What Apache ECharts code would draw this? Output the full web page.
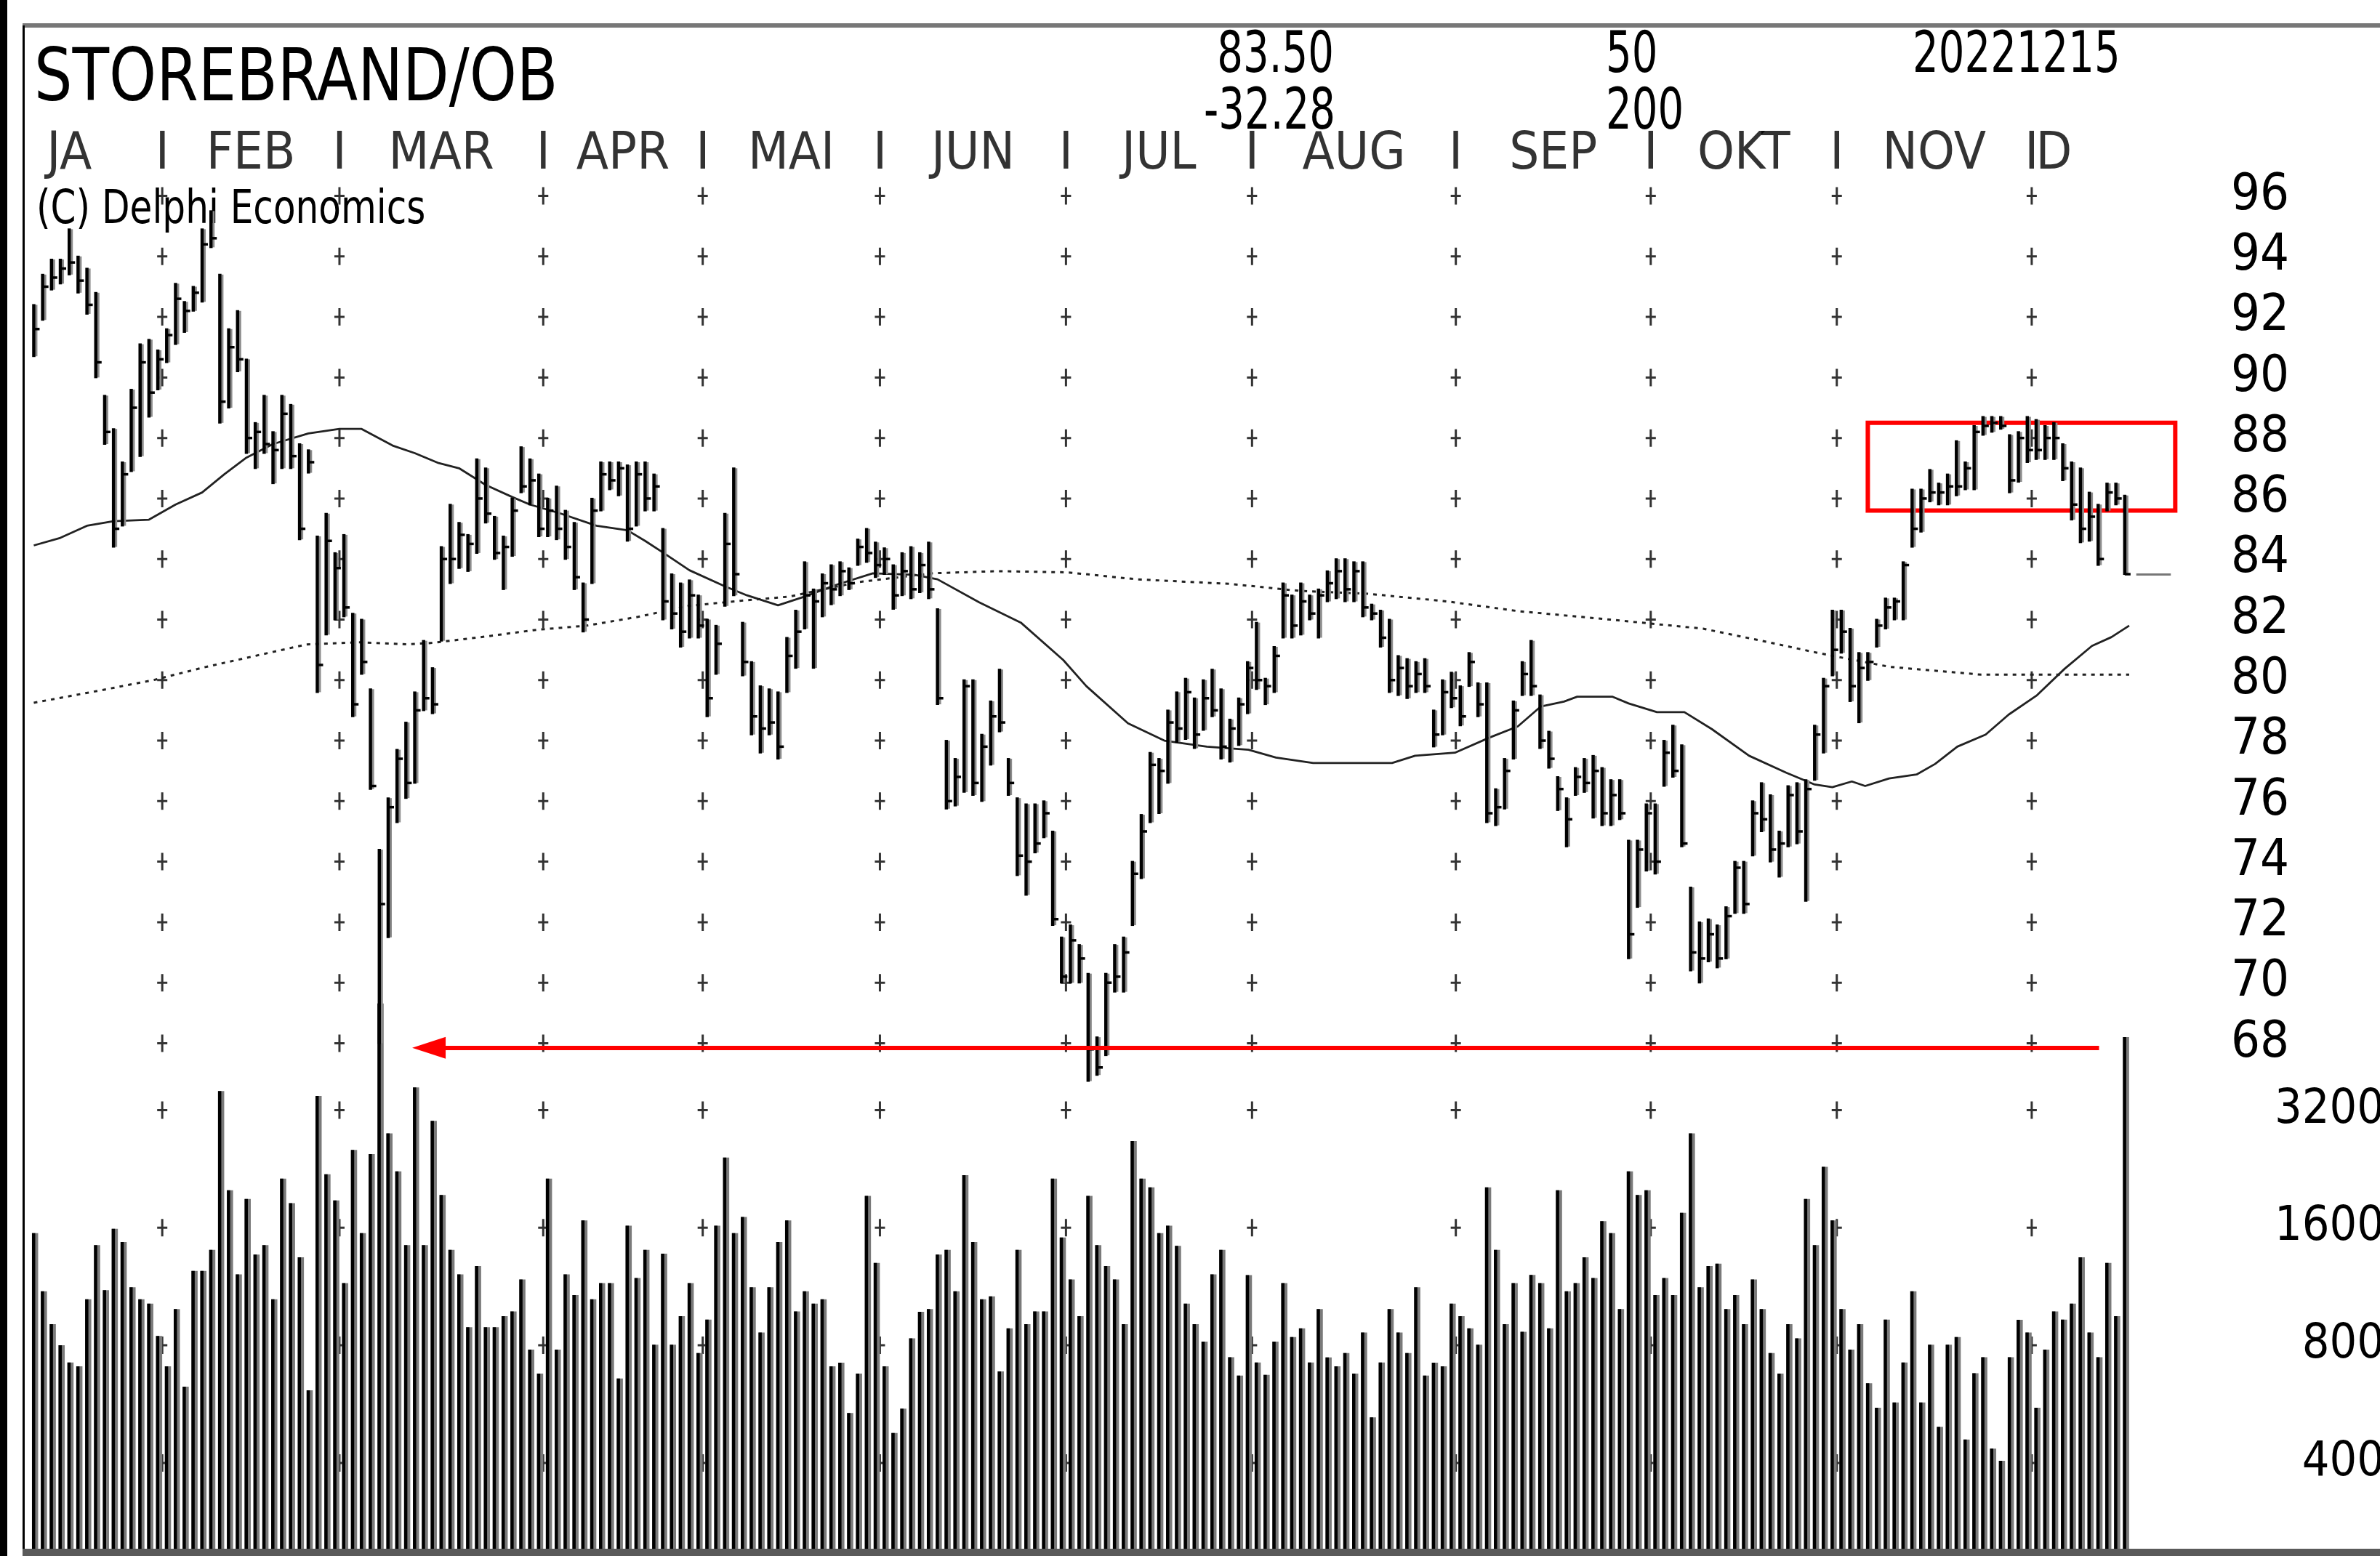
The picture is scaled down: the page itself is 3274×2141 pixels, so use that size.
<!DOCTYPE html>
<html>
<head>
<meta charset="utf-8">
<title>STOREBRAND/OB</title>
<script src="https://cdn.jsdelivr.net/npm/echarts@6/dist/echarts.min.js"></script>
<style>
  html, body { margin: 0; padding: 0; background: #fff; }
  #chart { width: 3274px; height: 2141px; }
</style>
</head>
<body>
<div id="chart"></div>
<script>
// daily bars 11 Jan - 15 Dec 2022, one entry per trading day
var highs = [
  92.4, 93.4, 93.9, 93.9, 94.9, 94.0, 93.6, 92.8, 89.4, 88.3,
  87.2, 89.6, 91.1, 91.25, 90.9, 91.6, 93.1, 92.5, 93.0, 94.9,
  95.5, 93.4, 91.6, 92.2, 90.6, 88.5, 89.4, 88.2, 89.4, 89.1,
  87.8, 87.6, 84.75, 85.5, 84.2, 84.8, 82.2, 82.0, 79.7, 74.4,
  76.1, 77.7, 78.6, 79.6, 81.3, 80.4, 84.4, 85.8, 85.2, 84.8,
  87.3, 87.0, 85.4, 84.75, 86.0, 87.7, 87.3, 86.8, 86.0, 86.4,
  85.6, 85.2, 83.2, 86.0, 87.2, 87.2, 87.2, 87.1, 87.2, 87.2,
  86.8, 85.0, 83.5, 83.2, 83.3, 82.8, 82.0, 81.8, 85.5, 87.0,
  81.9, 80.6, 79.8, 79.7, 79.6, 81.4, 82.3, 83.9, 83.0, 83.5,
  83.8, 83.9, 83.7, 84.65, 85.0, 84.55, 84.36, 83.8, 84.2, 84.4,
  84.2, 84.55, 82.35, 78.0, 77.4, 80.0, 80.0, 78.2, 79.3, 80.35,
  77.4, 76.1, 75.9, 75.9, 76.0, 75.0, 71.5, 71.9, 71.25, 70.3,
  68.2, 70.3, 71.25, 71.5, 74.0, 75.55, 77.6, 77.4, 79.0, 79.6,
  80.05, 79.4, 80.0, 80.35, 79.7, 78.7, 79.4, 80.6, 81.9, 80.05,
  81.1, 83.2, 82.8, 83.2, 82.8, 83.0, 83.6, 84.0, 84.0, 83.9,
  83.9, 82.5, 82.3, 82.0, 80.8, 80.7, 80.6, 80.7, 79.0, 80.0,
  80.25, 79.8, 80.9, 79.9, 79.9, 76.4, 77.4, 79.3, 80.6, 81.3,
  79.5, 78.3, 76.8, 76.1, 77.1, 77.4, 77.5, 77.1, 76.7, 76.7,
  74.7, 74.7, 75.9, 75.9, 78.0, 78.5, 77.85, 73.15, 72.0, 72.1,
  71.9, 72.5, 74.0, 74.0, 76.0, 76.6, 76.2, 75.0, 76.5, 76.6,
  76.7, 78.5, 80.05, 82.3, 82.3, 81.7, 80.9, 80.9, 82.0, 82.7,
  82.7, 83.9, 86.3, 86.3, 86.95, 86.5, 86.8, 87.9, 87.2, 88.4,
  88.7, 88.7, 88.7, 88.1, 88.2, 88.7, 88.6, 88.4, 88.5, 87.8,
  87.2, 87.0, 86.2, 85.8, 86.5, 86.5, 86.1
];
var lows = [
  90.7, 91.9, 92.9, 93.1, 93.4, 92.8, 92.1, 90.0, 87.8, 84.4,
  85.1, 86.9, 87.4, 88.7, 89.6, 90.5, 91.1, 91.5, 92.2, 92.5,
  94.3, 88.5, 89.0, 90.2, 87.5, 87.0, 87.5, 86.5, 87.0, 87.0,
  84.65, 86.85, 79.6, 81.5, 82.0, 82.1, 78.8, 80.2, 76.4, 68.0,
  71.5, 75.3, 76.1, 76.6, 79.0, 78.9, 81.3, 83.2, 83.7, 83.6,
  84.2, 85.2, 84.0, 83.0, 84.1, 86.2, 85.8, 84.75, 84.75, 84.65,
  84.0, 83.0, 81.6, 83.2, 85.6, 86.3, 86.1, 84.6, 85.1, 85.6,
  85.6, 82.0, 81.7, 81.1, 81.4, 81.4, 78.8, 80.2, 82.45, 82.8,
  80.15, 78.2, 77.6, 78.2, 77.4, 79.6, 80.4, 81.7, 80.4, 82.1,
  82.5, 82.8, 83.0, 83.8, 83.9, 83.4, 83.5, 82.35, 82.8, 82.7,
  82.9, 82.7, 79.2, 75.75, 75.85, 76.3, 76.2, 76.0, 77.2, 78.3,
  76.2, 73.55, 72.9, 74.3, 74.8, 71.9, 70.0, 70.0, 70.0, 66.75,
  66.95, 67.6, 69.7, 69.7, 71.9, 73.45, 75.3, 75.6, 76.6, 77.95,
  78.05, 77.75, 78.35, 78.8, 77.4, 77.3, 77.85, 78.9, 79.7, 79.2,
  79.6, 81.4, 81.4, 81.5, 82.0, 81.4, 82.6, 82.7, 82.6, 82.6,
  82.1, 82.0, 81.1, 79.6, 79.5, 79.4, 79.6, 79.6, 77.8, 78.2,
  79.1, 78.5, 79.8, 78.8, 75.3, 75.2, 75.75, 77.4, 79.5, 79.5,
  77.75, 77.1, 75.7, 74.5, 76.2, 76.3, 75.45, 75.2, 75.2, 75.4,
  70.8, 72.5, 73.7, 73.6, 76.5, 76.8, 74.5, 70.4, 70.0, 70.7,
  70.5, 70.8, 72.3, 72.3, 74.2, 75.0, 74.0, 73.5, 74.5, 74.6,
  72.7, 76.7, 77.6, 80.15, 80.9, 79.3, 78.6, 80.0, 81.1, 81.7,
  82.0, 82.0, 84.4, 84.9, 85.9, 85.8, 85.8, 86.1, 86.3, 86.3,
  88.1, 88.2, 88.3, 86.2, 86.55, 87.2, 87.3, 87.3, 87.3, 86.6,
  85.3, 84.55, 84.6, 83.8, 85.6, 85.8, 83.5
];
var closes = [
  91.6, 93.0, 93.3, 93.6, 93.8, 93.2, 92.4, 90.5, 88.2, 85.0,
  86.8, 89.0, 90.5, 89.5, 90.6, 91.4, 92.6, 92.2, 92.8, 94.4,
  94.6, 89.2, 91.0, 90.6, 88.0, 88.2, 87.8, 87.6, 88.8, 87.4,
  85.0, 87.2, 80.5, 84.6, 83.7, 82.4, 79.2, 80.6, 76.5, 72.6,
  75.8, 77.4, 76.6, 79.0, 79.4, 79.2, 84.0, 84.0, 84.8, 84.5,
  86.0, 85.5, 84.2, 84.4, 85.6, 86.4, 86.6, 85.0, 85.6, 85.0,
  84.4, 83.4, 82.0, 85.6, 86.8, 86.6, 87.0, 85.0, 86.8, 86.0,
  86.4, 82.6, 82.2, 81.6, 82.8, 81.8, 79.4, 81.2, 84.5, 83.5,
  80.6, 78.8, 78.4, 78.6, 77.8, 80.8, 81.6, 82.8, 82.6, 83.2,
  83.0, 83.6, 83.2, 84.4, 84.2, 83.8, 84.0, 82.8, 83.6, 83.0,
  83.8, 83.0, 79.4, 76.0, 76.8, 79.8, 76.6, 77.8, 78.8, 78.6,
  76.6, 74.2, 74.0, 74.6, 75.6, 72.1, 70.2, 71.4, 70.8, 67.8,
  67.2, 70.0, 70.2, 71.0, 73.6, 75.0, 77.2, 77.0, 78.6, 78.4,
  79.6, 78.2, 79.4, 79.0, 77.8, 78.4, 79.2, 80.4, 80.0, 79.8,
  80.8, 82.8, 81.8, 82.6, 82.2, 82.8, 83.2, 83.6, 83.0, 83.6,
  82.4, 82.2, 81.4, 80.0, 80.4, 79.8, 80.2, 79.8, 78.2, 79.6,
  79.4, 78.8, 80.6, 79.2, 75.6, 75.8, 77.0, 79.0, 80.2, 79.8,
  78.0, 77.4, 76.4, 75.4, 76.8, 76.6, 77.0, 75.6, 76.2, 75.6,
  71.6, 74.4, 75.6, 74.0, 77.6, 77.0, 74.6, 71.0, 70.8, 71.6,
  70.8, 72.2, 73.8, 72.6, 75.6, 75.4, 74.4, 74.6, 76.2, 75.0,
  76.4, 78.2, 79.8, 81.0, 81.6, 79.8, 80.4, 80.6, 81.8, 82.4,
  82.6, 83.8, 85.0, 86.0, 86.2, 86.2, 86.4, 86.4, 87.0, 88.2,
  88.4, 88.5, 88.4, 86.6, 88.0, 87.6, 87.6, 88.0, 88.0, 87.0,
  85.8, 85.0, 85.4, 84.0, 86.2, 86.0, 83.5
];
var volumes = [
  1550, 1100, 906, 800, 723, 707, 1050, 1444, 1107, 1590,
  1470, 1126, 1050, 1023, 845, 707, 990, 627, 1240, 1240,
  1405, 3580, 1995, 1215, 1895, 1366, 1444, 1050, 2137, 1850,
  1344, 614, 3480, 2192, 1880, 1155, 2530, 1550, 2470, 6000,
  2790, 2230, 1444, 3660, 1444, 3005, 1940, 1405, 1215, 890,
  1276, 890, 890, 950, 977, 1180, 780, 677, 2137, 780,
  1215, 1076, 1670, 1050, 1155, 1155, 658, 1620, 1190, 1405,
  803, 1373, 803, 950, 1155, 764, 931, 1620, 2420, 1550,
  1704, 1126, 863, 1126, 1470, 1670, 977, 1100, 1023, 1050,
  707, 722, 537, 677, 1930, 1300, 707, 477, 551, 834,
  975, 990, 1366, 1405, 1100, 2180, 1470, 1050, 1068, 686,
  884, 1405, 906, 977, 977, 2137, 1510, 1180, 950, 1930,
  1444, 1276, 1180, 906, 2666, 2137, 2030, 1550, 1620, 1438,
  1023, 906, 818, 1215, 1405, 746, 669, 1210, 723, 672,
  818, 1155, 840, 884, 723, 990, 745, 707, 764, 677,
  863, 523, 723, 990, 863, 764, 1126, 669, 722, 707,
  1023, 950, 884, 803, 2030, 1405, 906, 1155, 866, 1211,
  1155, 884, 1995, 1100, 1155, 1344, 1190, 1663, 1550, 990,
  2230, 1940, 1995, 1076, 1190, 1076, 1748, 2790, 1126, 1276,
  1295, 990, 1076, 906, 1180, 990, 764, 677, 906, 834,
  1895, 1444, 2290, 1670, 990, 780, 906, 640, 554, 931,
  571, 723, 1100, 571, 803, 495, 803, 840, 459, 679,
  746, 435, 405, 746, 930, 863, 554, 780, 977, 931,
  1023, 1344, 863, 746, 1300, 950, 4920
];

// moving averages at these bar positions
var ma50At = [0, 3, 6, 9, 13, 16, 19, 21.5, 24, 27, 31, 34.5, 37, 40.5, 43, 45.7, 48, 51, 54, 56,
  59.5, 63.5, 67, 69, 71, 74, 78, 80.5, 84, 87, 90.5, 94.7, 99.4, 102, 106.7, 111.4, 116.2, 118.8,
  123.5, 127.6, 132.4, 137.1, 140.2, 144.4, 153.3, 155.9, 160.4, 164.3, 167.5, 170.1, 172.7, 174.2,
  178.2, 180, 183.2, 186.3, 189.4, 193.6, 197.8, 201, 203, 205.2, 206.7, 209.4, 212.5, 214.6, 217.1,
  220.3, 222.9, 226.1, 229.2, 232.3, 234.5, 236.5];
var ma50 = [84.45, 84.7, 85.1, 85.25, 85.3, 85.8, 86.2, 86.8, 87.35, 87.8, 88.15, 88.3, 88.3, 87.75,
  87.5, 87.17, 87.0, 86.45, 86.05, 85.8, 85.5, 85.1, 84.95, 84.6, 84.22, 83.63, 83.1, 82.8, 82.47,
  82.76, 83.14, 83.53, 83.48, 83.33, 82.57, 81.9, 80.66, 79.8, 78.57, 78.0, 77.8, 77.7, 77.44, 77.26,
  77.26, 77.5, 77.6, 78.1, 78.47, 79.13, 79.29, 79.45, 79.45, 79.23, 78.94, 78.94, 78.38, 77.5,
  76.94, 76.55, 76.46, 76.65, 76.5, 76.75, 76.88, 77.23, 77.8, 78.2, 78.86, 79.5, 80.37, 81.13,
  81.42, 81.8];
var ma200At = [0, 7.7, 13.5, 19.2, 25, 30.8, 36.5, 42.2, 45, 51, 56.7, 62.4, 68.2, 73.9, 79.7, 85.3,
  93.1, 101.5, 108.8, 116.7, 124.5, 135, 142.8, 150.7, 159.5, 167.5, 177.9, 188.4, 195, 201.5,
  209.4, 219.8, 236.5];
var ma200 = [79.25, 79.67, 80.0, 80.42, 80.8, 81.18, 81.25, 81.18, 81.23, 81.44, 81.66, 81.8, 82.09,
  82.45, 82.62, 82.76, 83.24, 83.53, 83.6, 83.56, 83.33, 83.18, 82.95, 82.85, 82.6, 82.28, 82.0,
  81.7, 81.3, 80.89, 80.44, 80.18, 80.18];

// first bar of each month after January
var monthStart = [15, 35, 58, 76, 96, 117, 138, 161, 183, 204, 226];
var monthNames = ['JA', 'FEB', 'MAR', 'APR', 'MAI', 'JUN', 'JUL', 'AUG', 'SEP', 'OKT', 'NOV', 'D'];
var janStart = -6; // 3 Jan lies six trading days before the first bar
var priceTicks = [68, 70, 72, 74, 76, 78, 80, 82, 84, 86, 88, 90, 92, 94, 96];
var volTicks = [400, 800, 1600, 3200];

var title = 'STOREBRAND/OB';
var lastDate = '20221215';
var maPeriods = [50, 200];
var changeText = '-32.28';
var supportLevel = 67.85;
var boxRange = { from: 207, to: 241.7, top: 88.5, bottom: 85.6 };

var FONT = "'Liberation Sans Narrow', 'Arial Narrow', 'DejaVu Sans Condensed', sans-serif";
var PLUS = 'path://M5.5,0H8.5V24H5.5ZM0,10.5H14V13.5H0Z';

var myChart = echarts.init(document.getElementById('chart'));

var barData = highs.map(function (h, i) { return [i, h, lows[i], closes[i]]; });
var volData = volumes.map(function (v, i) { return [i, v]; });
var ma50Data = ma50.map(function (v, i) { return [ma50At[i], v]; });
var ma200Data = ma200.map(function (v, i) { return [ma200At[i], v]; });

var plusPrice = [], plusVol = [];
monthStart.forEach(function (s) {
    priceTicks.forEach(function (p) { plusPrice.push([s - 0.5, p]); });
    volTicks.forEach(function (v) { plusVol.push([s - 0.5, v]); });
});

// month names sit in the middle of their month, separators on the boundaries
var starts = [janStart].concat(monthStart);
var monthLabels = monthNames.map(function (n, i) {
    var x = i < starts.length - 1 ? (starts[i] + starts[i + 1] - 1) / 2 : starts[i] + 2;
    return { name: n, value: [x, 97.35] };
});
var separators = monthStart.map(function (s) { return { name: 'I', value: [s - 0.5, 97.35] }; });

function renderBar(params, api) {
    var i = api.value(0);
    var hi = api.coord([i, api.value(1)]);
    var lo = api.coord([i, api.value(2)]);
    var cl = api.coord([i, api.value(3)]);
    return {
        type: 'group',
        children: [
            { type: 'line', shape: { x1: hi[0] + 3.5, y1: hi[1], x2: lo[0] + 3.5, y2: lo[1] }, style: { stroke: '#8c8c8c', lineWidth: 3 } },
            { type: 'line', shape: { x1: hi[0], y1: hi[1] - 1, x2: lo[0], y2: lo[1] + 1 }, style: { stroke: '#000', lineWidth: 4.5 } },
            { type: 'line', shape: { x1: cl[0], y1: cl[1], x2: cl[0] + 8, y2: cl[1] }, style: { stroke: '#000', lineWidth: 3.5 } }
        ]
    };
}

function renderVolume(params, api) {
    var p = api.coord([api.value(0), api.value(1)]);
    var base = params.coordSys.y + params.coordSys.height;
    return {
        type: 'group',
        children: [
            { type: 'rect', shape: { x: p[0] - 2.5, y: p[1], width: 8.5, height: base - p[1] }, style: { fill: '#7a7a7a' } },
            { type: 'rect', shape: { x: p[0] - 2.5, y: p[1], width: 4.5, height: base - p[1] }, style: { fill: '#000' } }
        ]
    };
}

// header text, squeezed horizontally to get the narrow face of the original
function headText(text, x, y, size, sx, align) {
    return {
        type: 'text', x: x, y: y, scaleX: sx, silent: true,
        style: {
            text: text, fill: '#000', fontSize: size, fontFamily: FONT,
            align: align || 'left', textAlign: align || 'left',
            verticalAlign: 'middle', textVerticalAlign: 'middle'
        }
    };
}

var labelStyle = { show: true, position: 'inside', formatter: '{b}', color: '#000', fontSize: 72, fontFamily: FONT };

var option = {
    animation: false,
    backgroundColor: '#fff',
    grid: [
        // price 52..102; the volume labels run off the right edge as in the original
        { left: 16, top: 19.7, width: 2980, height: 2082, containLabel: false, outerBoundsMode: 'none' },
        { left: 16, top: 1200, width: 2980, height: 931, containLabel: false, outerBoundsMode: 'none' }
    ],
    xAxis: [
        { type: 'value', gridIndex: 0, min: -2.5, max: 242, show: false },
        { type: 'value', gridIndex: 1, min: -2.5, max: 242, show: false }
    ],
    yAxis: [
        {
            type: 'value', gridIndex: 0, position: 'right', min: 52, max: 102, interval: 2,
            axisLine: { show: false }, axisTick: { show: false }, splitLine: { show: false },
            axisLabel: {
                margin: 73, fontSize: 70, fontFamily: FONT, color: '#000',
                formatter: function (v) { return priceTicks.indexOf(v) >= 0 ? String(v) : ''; }
            }
        },
        {
            type: 'log', logBase: 2, gridIndex: 1, position: 'right', min: 241.2, max: 13014,
            axisLine: { show: false }, axisTick: { show: false }, splitLine: { show: false },
            axisLabel: {
                customValues: volTicks, align: 'right', margin: 284,
                fontSize: 66, fontFamily: FONT, color: '#000',
                formatter: function (v) { return String(Math.round(v)); }
            }
        }
    ],
    series: [
        {
            type: 'scatter', name: 'grid+', xAxisIndex: 0, yAxisIndex: 0, data: plusPrice,
            symbol: PLUS, symbolSize: [14, 24], itemStyle: { color: '#000' }, silent: true, z: 1
        },
        {
            type: 'scatter', name: 'grid+vol', xAxisIndex: 1, yAxisIndex: 1, data: plusVol,
            symbol: PLUS, symbolSize: [14, 24], itemStyle: { color: '#000' }, silent: true, z: 1
        },
        {
            type: 'custom', name: 'volum', xAxisIndex: 1, yAxisIndex: 1, data: volData,
            renderItem: renderVolume, encode: { x: 0, y: 1 }, silent: true, z: 2
        },
        {
            type: 'line', name: 'MA200', xAxisIndex: 0, yAxisIndex: 0, data: ma200Data,
            showSymbol: false, silent: true, z: 3,
            lineStyle: { color: '#222', width: 3, type: [5, 7] }
        },
        {
            type: 'line', name: 'MA50', xAxisIndex: 0, yAxisIndex: 0, data: ma50Data,
            showSymbol: false, silent: true, z: 3,
            lineStyle: { color: '#222', width: 2.8 },
            markArea: {
                silent: true,
                itemStyle: { color: 'rgba(0,0,0,0)', borderColor: '#ff0000', borderWidth: 6 },
                label: { show: false },
                data: [[{ coord: [boxRange.from, boxRange.top] }, { coord: [boxRange.to, boxRange.bottom] }]]
            },
            markLine: {
                silent: true,
                symbol: ['none', 'none'],
                label: { show: false },
                lineStyle: { color: '#ff0000', width: 6, type: 'solid' },
                data: [
                    [
                        { coord: [44.6, supportLevel], symbol: 'triangle', symbolSize: [30, 46] },
                        { coord: [233.1, supportLevel], symbol: 'none' }
                    ],
                    [
                        { coord: [237.3, closes[closes.length - 1]], lineStyle: { color: '#777', width: 3 } },
                        { coord: [241.2, closes[closes.length - 1]] }
                    ]
                ]
            }
        },
        {
            type: 'custom', name: 'kurs', xAxisIndex: 0, yAxisIndex: 0, data: barData,
            renderItem: renderBar, encode: { x: 0, y: [1, 2, 3] }, silent: true, z: 4
        },
        {
            type: 'scatter', name: 'months', xAxisIndex: 0, yAxisIndex: 0,
            data: monthLabels.concat(separators), symbolSize: 1,
            itemStyle: { color: 'rgba(0,0,0,0)' }, label: labelStyle, silent: true, z: 5
        }
    ],
    graphic: [
        { type: 'rect', shape: { x: 0, y: 0, width: 10, height: 2141 }, style: { fill: '#000' }, silent: true },
        { type: 'rect', shape: { x: 31, y: 32, width: 3243, height: 6 }, style: { fill: '#777' }, silent: true },
        { type: 'rect', shape: { x: 31, y: 35, width: 3, height: 2098 }, style: { fill: '#000' }, silent: true },
        { type: 'rect', shape: { x: 31, y: 2131, width: 3243, height: 10 }, style: { fill: '#5a5a5a' }, silent: true },
        headText(title, 47, 112, 100, 0.92),
        headText(closes[closes.length - 1].toFixed(2), 1835, 79, 78, 0.8, 'right'),
        headText(changeText, 1837, 157, 78, 0.8, 'right'),
        headText(String(maPeriods[0]), 2209, 79, 78, 0.8),
        headText(String(maPeriods[1]), 2209, 157, 78, 0.8),
        headText(lastDate, 2631, 79, 78, 0.8),
        headText('(C) Delphi Economics', 50, 290, 64, 0.87)
    ]
};

myChart.setOption(option);
</script>
</body>
</html>
